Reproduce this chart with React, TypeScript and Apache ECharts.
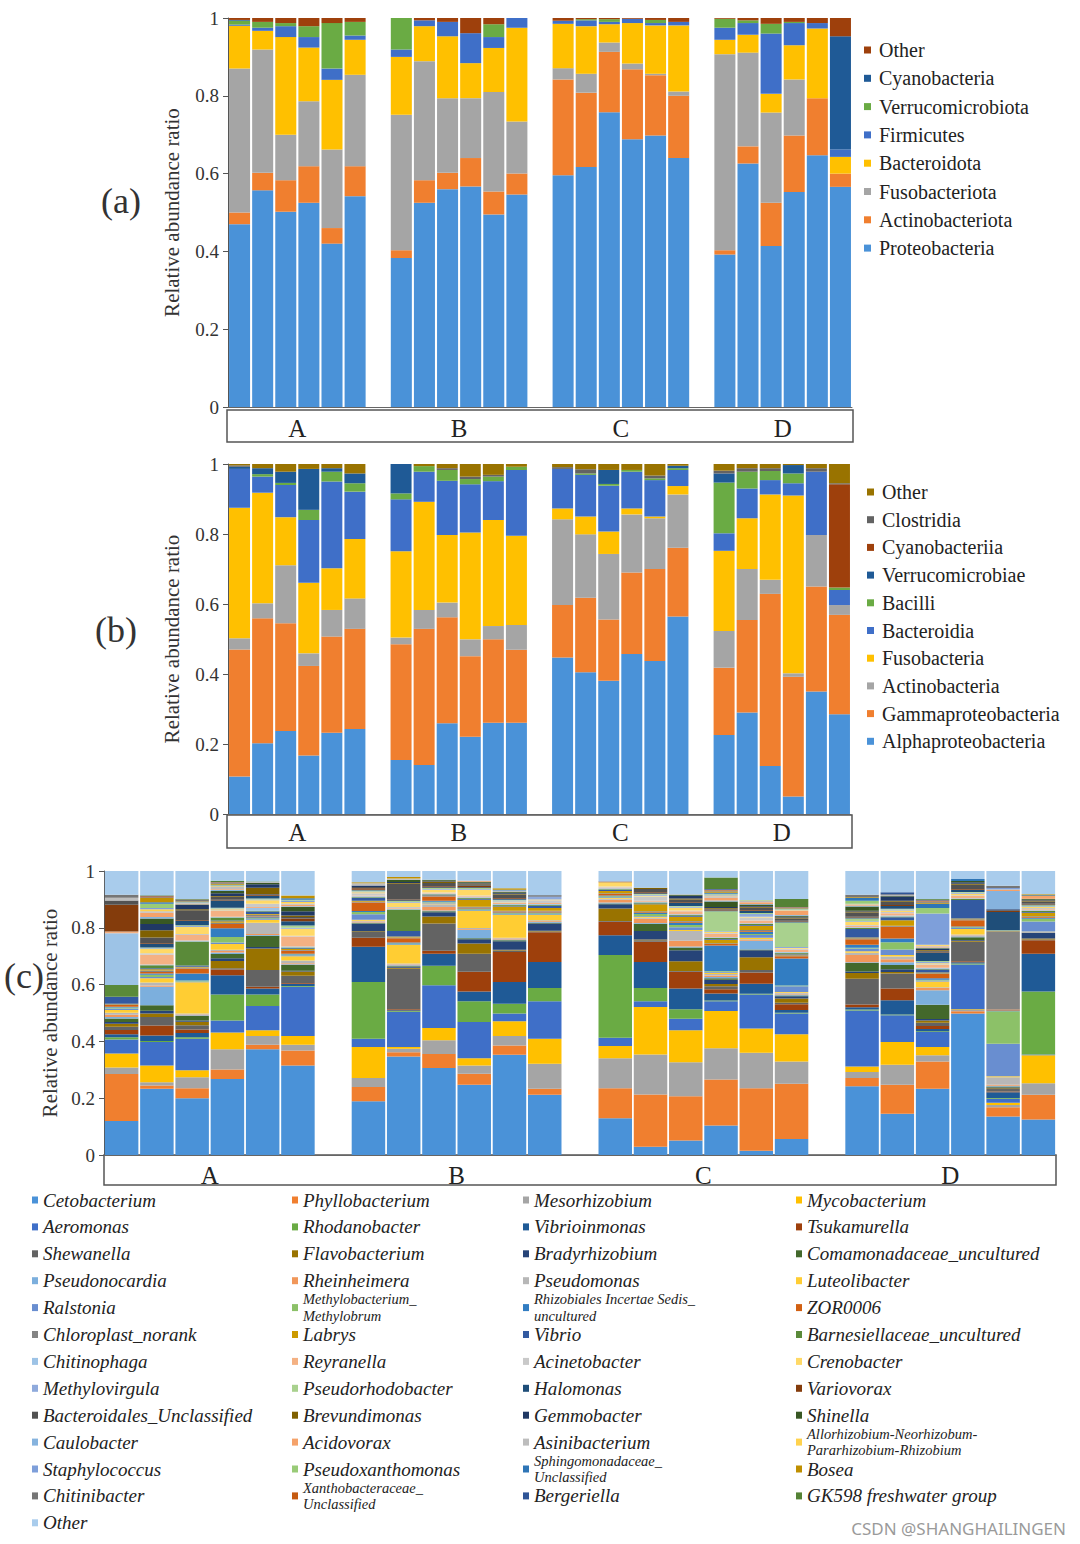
import React, { useEffect, useRef } from 'react';
import * as echarts from 'echarts';

const SERIF = '"Liberation Serif", "Times New Roman", serif';

const groups = ['A', 'B', 'C', 'D'];
const barsPerGroup = 6;
const yTicks = { min: 0, max: 1, interval: 0.2 };
const yTitle = 'Relative abundance ratio';

// ---------- Panel (a): phylum level (bars A1..A6, B1..B6, C1..C6, D1..D6) ----------
const phylaA = ['Proteobacteria', 'Actinobacteriota', 'Fusobacteriota', 'Bacteroidota', 'Firmicutes', 'Verrucomicrobiota', 'Cyanobacteria', 'Other'];
const phylaAColors = ['#4a92d8', '#f07f2f', '#a5a5a5', '#ffc000', '#3f6fc8', '#6aab44', '#1f5a96', '#9e400c'];
const proteobacteria = [0.47, 0.557, 0.502, 0.525, 0.42, 0.542, 0.383, 0.525, 0.56, 0.567, 0.495, 0.546, 0.596, 0.617, 0.758, 0.688, 0.698, 0.64, 0.392, 0.626, 0.414, 0.553, 0.647, 0.566];
const actinobacteriota = [0.03, 0.045, 0.081, 0.094, 0.04, 0.077, 0.02, 0.058, 0.042, 0.073, 0.059, 0.054, 0.246, 0.191, 0.155, 0.18, 0.155, 0.16, 0.011, 0.044, 0.111, 0.145, 0.147, 0.034];
const fusobacteriota = [0.37, 0.317, 0.117, 0.167, 0.202, 0.235, 0.348, 0.306, 0.192, 0.154, 0.256, 0.134, 0.029, 0.049, 0.024, 0.015, 0.004, 0.011, 0.504, 0.241, 0.232, 0.144, 0, 0];
const bacteroidota = [0.11, 0.048, 0.251, 0.138, 0.179, 0.09, 0.149, 0.09, 0.159, 0.09, 0.113, 0.241, 0.114, 0.122, 0.047, 0.104, 0.124, 0.17, 0.037, 0.046, 0.048, 0.088, 0.179, 0.043];
const firmicutes = [0.003, 0.008, 0.028, 0.027, 0.029, 0.011, 0.019, 0.015, 0.037, 0.077, 0.028, 0.025, 0.008, 0.015, 0.006, 0.011, 0.006, 0.009, 0.031, 0.03, 0.155, 0.057, 0.014, 0.019];
const verrucomicrobiota = [0.01, 0.015, 0.008, 0.028, 0.117, 0.035, 0.081, 0, 0, 0, 0.033, 0, 0, 0.003, 0.007, 0, 0.008, 0, 0.023, 0.007, 0.025, 0.003, 0, 0];
const cyanobacteria = [0.002, 0, 0, 0, 0, 0, 0, 0, 0, 0, 0, 0, 0, 0, 0, 0, 0, 0, 0, 0, 0, 0, 0, 0.291];
const otherPhyla = [0.005, 0.01, 0.013, 0.021, 0.013, 0.01, 0, 0.006, 0.01, 0.039, 0.016, 0, 0.007, 0.003, 0.003, 0.002, 0.005, 0.01, 0.002, 0.006, 0.015, 0.01, 0.013, 0.047];
const phylaAValues = [proteobacteria, actinobacteriota, fusobacteriota, bacteroidota, firmicutes, verrucomicrobiota, cyanobacteria, otherPhyla];

// ---------- Panel (b): class level ----------
const classesB = ['Alphaproteobacteria', 'Gammaproteobacteria', 'Actinobacteria', 'Fusobacteria', 'Bacteroidia', 'Bacilli', 'Verrucomicrobiae', 'Cyanobacteriia', 'Clostridia', 'Other'];
const classesBColors = ['#4a92d8', '#f07f2f', '#a5a5a5', '#ffc000', '#3f6fc8', '#6aab44', '#1f5a96', '#9e400c', '#636363', '#997300'];
const alphaproteobacteria = [0.107, 0.202, 0.237, 0.167, 0.232, 0.243, 0.154, 0.14, 0.259, 0.221, 0.261, 0.261, 0.447, 0.405, 0.381, 0.457, 0.437, 0.564, 0.226, 0.29, 0.137, 0.05, 0.35, 0.285];
const gammaproteobacteria = [0.363, 0.357, 0.308, 0.256, 0.275, 0.286, 0.331, 0.389, 0.303, 0.23, 0.238, 0.208, 0.15, 0.213, 0.175, 0.233, 0.263, 0.197, 0.192, 0.264, 0.492, 0.342, 0.3, 0.284];
const actinobacteria = [0.032, 0.043, 0.166, 0.036, 0.076, 0.087, 0.019, 0.054, 0.042, 0.048, 0.038, 0.071, 0.245, 0.181, 0.187, 0.166, 0.145, 0.152, 0.105, 0.146, 0.04, 0.01, 0.147, 0.028];
const fusobacteria = [0.373, 0.316, 0.137, 0.202, 0.119, 0.17, 0.247, 0.309, 0.193, 0.305, 0.303, 0.255, 0.031, 0.051, 0.064, 0.017, 0.005, 0.024, 0.229, 0.145, 0.244, 0.508, 0, 0];
const bacteroidia = [0.111, 0.046, 0.092, 0.179, 0.248, 0.135, 0.148, 0.086, 0.155, 0.138, 0.111, 0.188, 0.113, 0.119, 0.131, 0.105, 0.104, 0.046, 0.05, 0.085, 0.041, 0.035, 0.181, 0.043];
const bacilli = [0, 0.007, 0.006, 0.029, 0.028, 0.024, 0.017, 0.016, 0.031, 0.015, 0.013, 0.009, 0, 0.004, 0.005, 0.005, 0.005, 0.005, 0.145, 0.048, 0.026, 0.028, 0, 0.007];
const verrucomicrobiae = [0.006, 0.017, 0.032, 0.117, 0.01, 0.028, 0.084, 0, 0, 0, 0, 0, 0, 0, 0.04, 0, 0, 0.007, 0.026, 0, 0, 0.024, 0, 0];
const cyanobacteriia = [0, 0, 0, 0, 0, 0, 0, 0, 0, 0, 0, 0, 0, 0, 0, 0, 0, 0, 0, 0, 0, 0, 0, 0.295];
const clostridia = [0.004, 0, 0, 0, 0, 0, 0, 0, 0.005, 0.007, 0.005, 0, 0.005, 0.012, 0, 0, 0.008, 0, 0.008, 0.01, 0.008, 0, 0.01, 0.003];
const otherClasses = [0.004, 0.012, 0.022, 0.014, 0.012, 0.027, 0, 0.006, 0.012, 0.036, 0.031, 0.008, 0.009, 0.015, 0.017, 0.017, 0.033, 0.005, 0.019, 0.012, 0.012, 0.003, 0.012, 0.055];
const classesBValues = [alphaproteobacteria, gammaproteobacteria, actinobacteria, fusobacteria, bacteroidia, bacilli, verrucomicrobiae, cyanobacteriia, clostridia, otherClasses];

// ---------- Panel (c): genus level ----------
const genera = [
  'Cetobacterium', 'Phyllobacterium', 'Mesorhizobium', 'Mycobacterium',
  'Aeromonas', 'Rhodanobacter', 'Vibrioinmonas', 'Tsukamurella',
  'Shewanella', 'Flavobacterium', 'Bradyrhizobium', 'Comamonadaceae_uncultured',
  'Pseudonocardia', 'Rheinheimera', 'Pseudomonas', 'Luteolibacter',
  'Ralstonia', 'Methylobacterium_Methylobrum', 'Rhizobiales Incertae Sedis_uncultured', 'ZOR0006',
  'Chloroplast_norank', 'Labrys', 'Vibrio', 'Barnesiellaceae_uncultured',
  'Chitinophaga', 'Reyranella', 'Acinetobacter', 'Crenobacter',
  'Methylovirgula', 'Pseudorhodobacter', 'Halomonas', 'Variovorax',
  'Bacteroidales_Unclassified', 'Brevundimonas', 'Gemmobacter', 'Shinella',
  'Caulobacter', 'Acidovorax', 'Asinibacterium', 'Allorhizobium-Neorhizobum-Pararhizobium-Rhizobium',
  'Staphylococcus', 'Pseudoxanthomonas', 'Sphingomonadaceae_Unclassified', 'Bosea',
  'Chitinibacter', 'Xanthobacteraceae_Unclassified', 'Bergeriella', 'GK598 freshwater group',
  'Other',
];
const generaColors = [
  '#4a92d8', '#f07f2f', '#a5a5a5', '#ffc000',
  '#3f6fc8', '#6aab44', '#1f5a96', '#9e400c',
  '#636363', '#997300', '#264478', '#43682b',
  '#7cafdd', '#f1975a', '#b7b7b7', '#ffcd33',
  '#698ed0', '#8cc168', '#327dc2', '#d26012',
  '#848484', '#cc9a00', '#335aa1', '#5a8a39',
  '#9dc3e6', '#f4b183', '#c9c9c9', '#ffd966',
  '#8faadc', '#a9d18e', '#1f4e79', '#843c0c',
  '#525252', '#7f6000', '#203864', '#385723',
  '#86b3de', '#f5a26a', '#bdbdbd', '#ffd24d',
  '#7e9fda', '#99cb77', '#2e75b6', '#bf8f00',
  '#767676', '#c55a11', '#2f5597', '#548235',
  '#a9ccec',
];
const genusLegendText: Record<string, string> = {
  'Methylobacterium_Methylobrum': 'Methylobacterium_\nMethylobrum',
  'Rhizobiales Incertae Sedis_uncultured': 'Rhizobiales Incertae Sedis_\nuncultured',
  'Allorhizobium-Neorhizobum-Pararhizobium-Rhizobium': 'Allorhizobium-Neorhizobum-\nPararhizobium-Rhizobium',
  'Sphingomonadaceae_Unclassified': 'Sphingomonadaceae_\nUnclassified',
  'Xanthobacteraceae_Unclassified': 'Xanthobacteraceae_\nUnclassified',
};

// each bar lists the 49 genera in the order above (percent)
const barA1 = [12, 16.5, 2.3, 4.9, 5.0, 0.8, 1.0, 1.5, 1.2, 1.0, 0.6, 1.3, 0.5, 0.8, 0.7, 1.0, 0.5, 0.3, 0.3, 0.6, 0.3, 0.2, 2.4, 4.2, 18.2, 0.6, 0, 0, 0, 0, 0, 9.4, 1.5, 0, 0, 0, 0, 0, 1.0, 0, 0, 0, 0, 0, 1.0, 0, 0, 0, 8.4];
const barA2 = [23.3, 1.2, 1.1, 5.9, 8.3, 0.3, 2.0, 3.5, 3.0, 1.2, 1.0, 1.9, 6.5, 0.5, 1.0, 1.5, 0.5, 0.8, 0.4, 0.5, 0.6, 0.4, 0.4, 1.0, 0.3, 3.4, 0.5, 1.5, 0.3, 0.3, 1.2, 0.3, 2.0, 2.5, 2.2, 2.0, 0.5, 1.5, 0.5, 0.7, 0.5, 1.5, 0.5, 1.5, 0.3, 0.3, 0.2, 0.2, 8.5];
const barA3 = [20.0, 3.5, 3.9, 2.4, 11.1, 0.6, 1.5, 1.2, 1.5, 1.2, 0.5, 1.5, 0.3, 0.3, 0.3, 11.0, 0.3, 0.3, 2.5, 1.8, 0.3, 0.3, 0.4, 8.5, 0.3, 2.0, 0.3, 2.5, 0.3, 0.3, 1.5, 0.3, 3.5, 0.3, 1.5, 0.2, 0.1, 0.2, 0.2, 0.1, 0.1, 0.1, 0.1, 0.2, 0.5, 0.1, 0.1, 0.1, 9.9];
const barA4 = [26.8, 3.3, 7.1, 5.9, 4.3, 9.1, 6.8, 2.0, 0.5, 2.5, 1.0, 1.5, 0.5, 0.5, 0.5, 2.0, 0.5, 2.0, 3.0, 1.5, 0.5, 0.5, 0.3, 1.0, 0.3, 2.0, 0.3, 0.3, 0.3, 0.3, 2.5, 0.3, 1.0, 0.3, 1.0, 0.8, 0.3, 0.3, 0.8, 0.2, 0.2, 0.2, 0.2, 0.3, 0.4, 0.1, 0.1, 0.5, 3.4];
const barA5 = [37.2, 1.6, 3.1, 2.0, 8.6, 4.0, 2.1, 0.6, 5.9, 7.6, 0.5, 4.0, 0.3, 0.3, 4.0, 1.0, 0.3, 0.3, 0.3, 0.3, 0.6, 0.3, 0.8, 0.3, 1.0, 0.3, 1.2, 1.2, 0.3, 0.3, 1.0, 0.3, 0.3, 2.2, 1.2, 0.5, 0, 0, 0.3, 0, 0, 0, 0, 0, 0, 0, 0, 0.2, 3.7];
const barA6 = [31.5, 5.3, 2.0, 3.1, 17.3, 0.3, 0.8, 0.3, 2.5, 1.5, 0.3, 2.0, 0.3, 0.3, 1.0, 1.5, 0.3, 0.3, 0.3, 1.0, 0.3, 0.3, 0.3, 0.3, 0.3, 3.5, 0.3, 2.5, 0.3, 0.8, 1.5, 1.0, 0.5, 0.5, 1.5, 1.5, 0.3, 0.5, 0.5, 0.5, 0.5, 0.3, 0.5, 1.0, 0, 0, 0, 0, 8.6];
const barB1 = [18.9, 5.0, 3.2, 10.9, 2.9, 20.0, 12.4, 3.2, 2.0, 0.3, 2.5, 0.3, 0.3, 0.3, 0.3, 0.3, 2.0, 0.8, 0.3, 3.0, 0.3, 0.3, 1.0, 0.3, 0.3, 0.3, 0.8, 0.3, 0.3, 0.3, 0.3, 0.5, 0.5, 0, 0.5, 0, 0, 0, 0.8, 0, 0, 0, 0, 0.3, 0, 0, 0, 0, 4.0];
const barB2 = [34.7, 1.5, 1.2, 0.6, 12.4, 0.3, 0.3, 0.3, 14.3, 0.3, 0.3, 0.3, 0.3, 0.3, 0.3, 6.5, 0.3, 0.3, 0.3, 1.5, 0.3, 0.3, 2.0, 7.5, 0.3, 0.3, 0.3, 1.5, 0.3, 0.3, 0.3, 0.3, 5.5, 0.3, 0.3, 0.8, 0, 0, 0.5, 0, 0, 0, 0, 0.5, 0, 0, 0, 0, 2.1];
const barB3 = [30.6, 5.0, 4.8, 4.3, 15.1, 6.8, 4.3, 1.0, 9.6, 2.5, 1.5, 0.3, 0.3, 1.2, 1.0, 0.3, 0.3, 0.3, 0.3, 1.5, 0.2, 0.2, 0.2, 0.2, 0.2, 0.2, 0.2, 1.0, 0.3, 0.3, 0.3, 0.3, 1.2, 0.5, 0.3, 0.3, 0, 0, 0, 0, 0, 0, 0, 0, 0, 0, 0, 0, 3.1];
const barB4 = [24.7, 3.9, 2.9, 2.6, 12.7, 7.3, 3.5, 6.9, 6.4, 3.6, 1.5, 0.3, 3.0, 0.3, 0.3, 6.0, 0.3, 0.3, 0.3, 0.3, 0.3, 2.5, 0.3, 0.3, 0.3, 0.3, 0.3, 2.0, 0.3, 0.3, 0.3, 0.5, 0.5, 0.3, 0.3, 0.3, 0, 0.4, 0, 0, 0, 0, 0, 0, 0, 0, 0, 0, 3.4];
const barB5 = [35.3, 3.3, 3.3, 5.2, 2.7, 3.5, 7.6, 10.6, 0.5, 0.3, 3.0, 0.3, 0.3, 0.3, 0.3, 8.0, 0.3, 0.3, 0.3, 0.3, 0.3, 1.5, 0.3, 0.3, 0.3, 0.3, 0.3, 0.3, 0.3, 0.3, 0.3, 0.3, 1.2, 0.3, 0.3, 0.3, 0, 0, 0.5, 0, 0, 0, 0.3, 0.5, 0, 0, 0, 0, 6.1];
const barB6 = [21.2, 2.1, 8.8, 8.8, 13.2, 4.7, 9.2, 10.4, 0.3, 0.3, 2.5, 0.3, 0.3, 0.3, 0.3, 1.8, 0.3, 0.3, 0.3, 0.3, 0.3, 1.0, 0.8, 0.3, 0.3, 0.3, 1.0, 0.3, 1.0, 0, 0, 0, 0.5, 0, 0, 0, 0, 0, 0, 0, 0, 0, 0, 0, 0, 0, 0, 0, 8.5];
const barC1 = [12.9, 10.6, 10.6, 4.3, 2.9, 29.1, 7.0, 4.7, 0.3, 4.4, 1.5, 0.3, 0.3, 1.0, 0.3, 0.3, 0.3, 0.3, 0.3, 0.5, 0.3, 0.8, 0.3, 0.3, 0.3, 0.3, 0.3, 1.5, 0, 0, 0, 0.3, 0, 0, 0, 0, 0, 0, 0, 0, 0, 0, 0, 0, 0, 0, 0, 0, 3.7];
const barC2 = [2.9, 18.4, 14.1, 16.7, 2.0, 4.7, 9.2, 7.1, 0.5, 0.3, 3.0, 2.5, 0.3, 1.5, 0.3, 0.3, 0.3, 0.8, 0.3, 0.3, 0.3, 2.5, 0.3, 0.3, 0.3, 0.3, 1.5, 0.3, 0.3, 0.3, 0.3, 0.3, 1.2, 0.4, 0, 0, 0, 0, 0, 0, 0, 0, 0, 0, 0, 0, 0, 0, 5.9];
const barC3 = [5.1, 15.6, 12.0, 11.2, 4.1, 3.3, 7.3, 5.9, 0.3, 3.4, 3.9, 1.0, 0.3, 2.0, 3.5, 0.3, 1.0, 0.8, 0.8, 0.3, 0.3, 1.5, 0.3, 0.3, 0.3, 1.0, 0.3, 1.0, 0.3, 0.3, 1.0, 0.3, 1.0, 0.3, 1.0, 0.3, 0, 0, 0.2, 0, 0, 0, 0, 0, 0, 0, 0, 0, 8.2];
const barC4 = [10.4, 16.2, 11.0, 13.1, 3.4, 0.3, 2.5, 1.5, 1.0, 0.8, 1.5, 0.5, 0.5, 0.5, 0.5, 0.5, 0.3, 0.3, 9.0, 0.5, 0.3, 1.2, 0.3, 0.3, 0.3, 1.2, 0.3, 0.3, 0.3, 7.0, 0.3, 0.3, 0.3, 0.3, 0.3, 2.0, 0.3, 1.0, 0.5, 0.3, 0.3, 0.3, 0.3, 0.5, 0.3, 0.3, 0.3, 4.0, 2.3];
const barC5 = [1.5, 22.0, 12.5, 8.5, 12.0, 0.3, 3.5, 4.0, 0.8, 4.5, 2.5, 0.3, 3.0, 0.3, 0.3, 0.5, 1.0, 0.3, 0.8, 0.3, 0.3, 1.5, 0.3, 0.3, 0.3, 1.0, 1.0, 0.3, 1.0, 0.3, 0.8, 0.3, 0.8, 0.3, 0.3, 0.5, 0.2, 0.6, 0.4, 0.1, 0.1, 0.2, 0, 0, 0, 0, 0, 0, 10.2];
const barC6 = [5.6, 19.5, 7.8, 9.6, 7.3, 0.3, 1.0, 2.0, 0.5, 1.5, 0.8, 0.3, 0.3, 0.3, 0.3, 0.3, 2.0, 0.3, 9.5, 0.8, 0.3, 0.3, 0.3, 0.3, 0.3, 0.8, 0.3, 0.3, 0.3, 8.7, 0.3, 0.3, 0.8, 0.3, 0.3, 0.3, 0.3, 1.5, 0.15, 0.15, 0.15, 0.15, 0.15, 0.15, 0.15, 0.15, 0.15, 2.8, 9.9];
const barD1 = [24.2, 2.9, 2.1, 2.0, 19.7, 0.3, 0.8, 1.0, 9.1, 2.0, 0.5, 3.0, 0.3, 2.5, 0.8, 0.5, 1.0, 0.3, 1.0, 2.0, 0.3, 0.3, 3.0, 0.3, 0.3, 0.5, 0.3, 1.0, 0.3, 1.0, 0.3, 0.3, 1.5, 0.3, 0.3, 1.5, 0.2, 0.2, 0.2, 0.2, 0.2, 1.0, 1.0, 0.3, 0.8, 0, 0, 0, 8.4];
const barD2 = [14.5, 10.2, 7.1, 8.0, 9.4, 0.3, 5.0, 4.1, 5.3, 0.5, 1.0, 1.5, 1.0, 1.0, 1.0, 0.5, 2.0, 2.5, 1.3, 4.2, 0.3, 2.0, 1.0, 0.3, 0.3, 0.8, 0.5, 0.5, 0.3, 0.3, 1.0, 0.3, 1.2, 0.3, 1.5, 0.2, 0, 0, 0.3, 0, 0, 0, 0, 0, 0.3, 0, 0.7, 0, 7.5];
const barD3 = [23.3, 9.6, 2.2, 2.9, 5.3, 0.3, 0.8, 1.0, 1.2, 0.8, 0.5, 5.0, 5.1, 0.8, 0.3, 2.0, 0.3, 0.3, 0.5, 1.5, 0.3, 0.3, 1.0, 0.3, 0.3, 1.0, 0.3, 0.3, 0.5, 0.3, 3.0, 0.3, 0.3, 0.3, 0.3, 0.3, 0.3, 0.3, 0.3, 0.3, 11.0, 2.0, 1.5, 0.3, 0.5, 0.3, 0.25, 0.25, 9.9];
const barD4 = [49.8, 0.8, 0.5, 0.2, 15.8, 0.3, 0.5, 0.3, 6.9, 0.3, 0.3, 1.0, 0.3, 0.3, 0.3, 2.0, 0.3, 0.3, 0.3, 2.2, 0.3, 0.3, 6.5, 0.3, 0.3, 0.8, 0.3, 0.5, 0.3, 0.3, 0.8, 0.3, 1.5, 0.3, 0.5, 0.5, 0, 0, 0, 0, 0, 0, 0.7, 0, 0, 0, 0, 0, 2.8];
const barD5 = [13.6, 3.2, 0.8, 0.8, 1.4, 0.3, 2.0, 0.3, 0.8, 0.3, 0.3, 0.3, 0.3, 0.3, 2.7, 0.3, 11.5, 11.4, 0.3, 0.3, 27.6, 0.1, 0.1, 0.1, 0.1, 0, 0, 0, 0, 0, 6.4, 0.3, 0.3, 0, 0.3, 0, 6.5, 0.3, 0.3, 0, 0.4, 0, 0, 0, 0.8, 0, 0, 0, 5.2];
const barD6 = [12.5, 8.7, 4.1, 9.8, 0.3, 22.2, 13.3, 4.7, 0.3, 0.3, 2.0, 0.1, 0.1, 0.1, 0.1, 0.1, 3.5, 1.0, 0.3, 0.3, 0.3, 1.2, 0.3, 0.3, 0.3, 0.3, 0.5, 0.3, 0.3, 0.3, 0.3, 0.3, 0.8, 0.3, 0.3, 0.3, 0, 1.0, 0, 0, 0, 0, 0.3, 0.3, 0, 0, 0, 0, 8.2];
const generaBars = [barA1, barA2, barA3, barA4, barA5, barA6, barB1, barB2, barB3, barB4, barB5, barB6, barC1, barC2, barC3, barC4, barC5, barC6, barD1, barD2, barD3, barD4, barD5, barD6];

// ---------- helpers ----------
const slotNames: string[] = [];
groups.forEach((g, gi) => {
  if (gi > 0) slotNames.push(`gap${gi}`);
  for (let k = 1; k <= barsPerGroup; k++) slotNames.push(`${g}${k}`);
});
const SLOTS = slotNames.length; // 27

function toSlots(values: number[], scale: number) {
  const out: (number | string)[] = [];
  values.forEach((v, i) => {
    if (i > 0 && i % barsPerGroup === 0) out.push('-');
    out.push(v * scale);
  });
  return out;
}

function barSeries(names: string[], colors: string[], values: number[][], stack: string, gap: string, scale: number) {
  return names.map((name, i) => ({
    type: 'bar',
    name,
    stack,
    xAxisIndex: 0,
    yAxisIndex: 0,
    barCategoryGap: gap,
    silent: true,
    itemStyle: { color: colors[i] },
    emphasis: { disabled: true },
    data: toSlots(values[i], scale),
  }));
}

type PanelCfg = {
  chartTop: number;
  gridLeft: number; gridTop: number; gridWidth: number; gridHeight: number;
  boxLeft: number; boxTop: number; boxWidth: number; boxHeight: number;
  labelCenter: number; nameGap: number;
  tag: string; tagX: number; tagY: number;
  series: any[]; legend: any; extraGraphic?: any[];
};

function buildPanel(p: PanelCfg) {
  const t = p.chartTop;
  const slotW = p.gridWidth / SLOTS;
  return {
    animation: false,
    grid: [
      { left: p.gridLeft, top: p.gridTop - t, width: p.gridWidth, height: p.gridHeight, outerBoundsMode: 'none', containLabel: false },
      { left: p.gridLeft - slotW / 2, top: p.labelCenter - t - 15, width: slotW * (SLOTS + 1), height: 1, outerBoundsMode: 'none', containLabel: false },
    ],
    xAxis: [
      {
        type: 'category', gridIndex: 0, data: slotNames,
        axisLine: { show: true, lineStyle: { color: '#666', width: 1 } },
        axisTick: { show: false }, axisLabel: { show: false }, splitLine: { show: false },
      },
      {
        type: 'category', gridIndex: 1, data: groups,
        axisLine: { show: false }, axisTick: { show: false }, splitLine: { show: false },
        axisLabel: { interval: 0, margin: 2, fontFamily: SERIF, fontSize: 25, color: '#222' },
      },
    ],
    yAxis: [
      {
        type: 'value', gridIndex: 0, min: yTicks.min, max: yTicks.max, interval: yTicks.interval,
        axisLine: { show: true, lineStyle: { color: '#555', width: 1 } },
        axisTick: { show: true, length: 5, lineStyle: { color: '#555' } },
        splitLine: { show: false },
        axisLabel: { fontFamily: SERIF, fontSize: 19, color: '#333', margin: 9 },
        name: yTitle, nameLocation: 'middle', nameGap: p.nameGap,
        nameTextStyle: { fontFamily: SERIF, fontSize: 21, color: '#333' },
      },
      { type: 'value', gridIndex: 1, show: false },
    ],
    legend: p.legend,
    graphic: [
      {
        type: 'rect', silent: true,
        shape: { x: p.boxLeft, y: p.boxTop - t, width: p.boxWidth, height: p.boxHeight },
        style: { fill: 'none', stroke: '#555', lineWidth: 1.5 },
      },
      {
        type: 'text', silent: true, x: p.tagX, y: p.tagY - t,
        style: { text: p.tag, font: `36px ${SERIF}`, fill: '#333', align: 'center', verticalAlign: 'middle', textAlign: 'center', textVerticalAlign: 'middle' },
      },
      ...(p.extraGraphic || []),
    ],
    series: p.series,
  };
}

const legendTextStyle = { fontFamily: SERIF, fontSize: 20, color: '#222', lineHeight: 20, padding: [0, 0, 0, 3] };

const optionA = buildPanel({
  chartTop: 0,
  gridLeft: 228, gridTop: 18, gridWidth: 624, gridHeight: 389,
  boxLeft: 227, boxTop: 410, boxWidth: 626, boxHeight: 32,
  labelCenter: 428, nameGap: 46,
  tag: '(a)', tagX: 121, tagY: 201,
  series: barSeries(phylaA, phylaAColors, phylaAValues, 'a', '9%', 1),
  legend: {
    orient: 'vertical', left: 864, top: 40, padding: 0, itemGap: 8.3,
    itemWidth: 7, itemHeight: 7, icon: 'rect', selectedMode: false,
    data: [...phylaA].reverse(), textStyle: legendTextStyle,
  },
});

const B_TOP = 450;
const optionB = buildPanel({
  chartTop: B_TOP,
  gridLeft: 228, gridTop: 464, gridWidth: 623, gridHeight: 350,
  boxLeft: 227, boxTop: 815, boxWidth: 625, boxHeight: 33,
  labelCenter: 832, nameGap: 46,
  tag: '(b)', tagX: 116, tagY: 630,
  series: barSeries(classesB, classesBColors, classesBValues, 'b', '9%', 1),
  legend: {
    orient: 'vertical', left: 867, top: 492 - B_TOP - 10, padding: 0, itemGap: 7.7,
    itemWidth: 7, itemHeight: 7, icon: 'rect', selectedMode: false,
    data: [...classesB].reverse(), textStyle: legendTextStyle,
  },
});

const C_TOP = 855;
const legendColX = [32, 292, 523, 796];
const legendRow0 = 1200;
const legendRowStep = 26.9;
const generaValues = genera.map((_, i) => generaBars.map((bar) => bar[i]));
const legendsC = genera.map((name, i) => {
  const row = Math.floor(i / 4);
  const col = i % 4;
  const label = genusLegendText[name] ?? name;
  const lines = label.split('\n').length;
  const multi = lines > 1;
  const lh = multi ? 16.4 : 20;
  const cy = legendRow0 + row * legendRowStep - C_TOP;
  return {
    orient: 'horizontal', left: legendColX[col], top: cy - (lines * lh) / 2, padding: 0,
    itemWidth: 6, itemHeight: 7, icon: 'rect', selectedMode: false,
    data: [name],
    formatter: (n: string) => genusLegendText[n] ?? n,
    textStyle: { fontFamily: SERIF, fontStyle: 'italic', fontSize: multi ? 14.5 : 19, color: '#222', lineHeight: lh },
  };
});

const optionC = buildPanel({
  chartTop: C_TOP,
  gridLeft: 104, gridTop: 871, gridWidth: 952, gridHeight: 284,
  boxLeft: 104, boxTop: 1155, boxWidth: 952, boxHeight: 30,
  labelCenter: 1175, nameGap: 35,
  tag: '(c)', tagX: 24, tagY: 976,
  series: barSeries(genera, generaColors, generaValues, 'c', '5%', 0.01),
  legend: legendsC,
  extraGraphic: [
    {
      type: 'text', silent: true, x: 1066, y: 1528 - C_TOP,
      style: { text: 'CSDN @SHANGHAILINGEN', font: '17px "Noto Sans", sans-serif', fill: '#9a9a9a', align: 'right', verticalAlign: 'middle', textAlign: 'right', textVerticalAlign: 'middle' },
    },
  ],
});

function Panel({ top, height, option }: { top: number; height: number; option: any }) {
  const ref = useRef<HTMLDivElement>(null);
  useEffect(() => {
    if (!ref.current) return;
    const chart = echarts.init(ref.current, undefined, { renderer: 'svg' });
    chart.setOption(option);
    return () => chart.dispose();
  }, [option]);
  return <div ref={ref} style={{ position: 'absolute', left: 0, top, width: 1080, height }} />;
}

export default function App() {
  return (
    <div style={{ position: 'absolute', left: 0, top: 0, width: 1080, height: 1544, background: '#fff', overflow: 'hidden' }}>
      <Panel top={0} height={B_TOP} option={optionA} />
      <Panel top={B_TOP} height={C_TOP - B_TOP} option={optionB} />
      <Panel top={C_TOP} height={1544 - C_TOP} option={optionC} />
    </div>
  );
}
